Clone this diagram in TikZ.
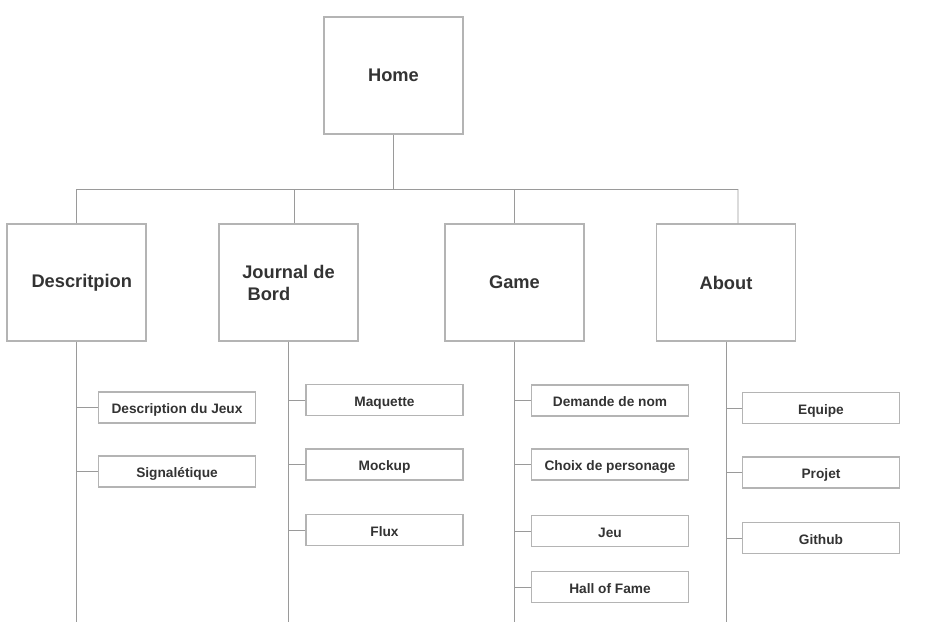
\documentclass[tikz,border=0pt]{standalone}
\usepackage{fontspec}
\setmainfont{Liberation Sans}
\definecolor{boxgray}{HTML}{B4B4B4}
\definecolor{linegray}{HTML}{9A9A9A}
\definecolor{textgray}{HTML}{333333}
\tikzset{
  page/.style={draw=boxgray, line width=0.6pt, minimum width=2.78cm, minimum height=2.34cm,
    inner sep=0pt, text=textgray, font=\bfseries\fontsize{10.4}{12.5}\selectfont},
  sub/.style={draw=boxgray, line width=0.6pt, minimum width=3.14cm, minimum height=0.62cm,
    inner sep=0pt, text height=0.72em, text depth=0pt, text=textgray,
    font=\bfseries\fontsize{7.8}{9}\selectfont},
  link/.style={draw=linegray, line width=0.5pt}
}
\begin{document}
\begin{tikzpicture}[x=0.02cm, y=-0.02cm]
\useasboundingbox (0,0) rectangle (945,642);
% top level
\node [page] (home) at (393.5,75.5) {Home};
\node [page] (desc) at (76.5,282.5) {\hspace{6pt}Descritpion};
\node [page, align=left] (journal) at (288.5,282.5) {Journal de\\\hspace{3pt}Bord};
\node [page] (game) at (514.5,282.5) {Game};
\node [page] (about) at (726,282.5) {About};
\coordinate (busL) at (77,189);
\coordinate (busR) at (738,189);
\coordinate (floor) at (0,622);
% sub pages
\node [sub] (descjeux) at (177,407.5) {Description du Jeux};
\node [sub] (signal) at (177,471.5) {Signalétique};
\node [sub] (maquette) at (384.5,400) {Maquette};
\node [sub] (mockup) at (384.5,464.5) {Mockup};
\node [sub] (flux) at (384.5,530) {Flux};
\node [sub] (demande) at (610,400.5) {Demande de nom};
\node [sub] (choix) at (610,464.5) {Choix de personage};
\node [sub] (jeu) at (610,531) {Jeu};
\node [sub] (hall) at (610,587) {Hall of Fame};
\node [sub] (equipe) at (821,408) {Equipe};
\node [sub] (projet) at (821,472.5) {Projet};
\node [sub] (github) at (821,538) {Github};
% tree lines
\draw [link] (busL) -- (busR);
\draw [link] (home.south) -- (home.south |- busL);
\draw [link] (desc.north) -- (desc.north |- busL);
\draw [link] ([xshift=0.11cm]journal.north) -- ([xshift=0.11cm]journal.north |- busL);
\draw [link] (game.north) -- (game.north |- busL);
\draw [link] ([xshift=0.24cm]about.north) -- (busR);
\foreach \p in {desc,journal,game,about}
  \draw [link] (\p.south) -- (\p.south |- floor);
\foreach \s in {descjeux,signal}
  \draw [link] (\s.west) -- (\s.west -| desc.south);
\foreach \s in {maquette,mockup,flux}
  \draw [link] (\s.west) -- (\s.west -| journal.south);
\foreach \s in {demande,choix,jeu,hall}
  \draw [link] (\s.west) -- (\s.west -| game.south);
\foreach \s in {equipe,projet,github}
  \draw [link] (\s.west) -- (\s.west -| about.south);
\end{tikzpicture}
\end{document}
